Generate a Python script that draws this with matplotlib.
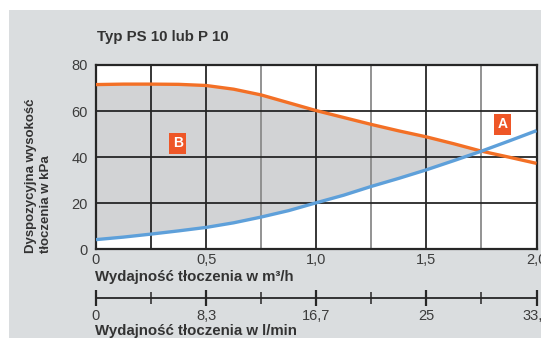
import matplotlib.pyplot as plt
from matplotlib.patches import Rectangle
import numpy as np

plt.rcParams['font.family'] = ['Liberation Sans', 'DejaVu Sans']

# Flow in m3/h
flow = [0, 0.125, 0.25, 0.375, 0.5, 0.625, 0.75, 0.875, 1.0,
        1.125, 1.25, 1.375, 1.5, 1.625, 1.75, 1.875, 2.0]
# Available head (kPa), curve A
head_a = [71.5, 71.7, 71.7, 71.6, 71.1, 69.5, 67.0, 63.6, 60.2,
          57.2, 54.2, 51.4, 48.8, 45.8, 42.6, 40.0, 37.3]
# Pipe loss curve
head_loss = [4.2, 5.3, 6.6, 8.0, 9.5, 11.5, 14.0, 16.8, 20.2,
             23.5, 27.3, 30.8, 34.5, 38.5, 42.6, 47.0, 51.5]

x_ticks = [0, 0.5, 1.0, 1.5, 2.0]
x_labels = ['0', '0,5', '1,0', '1,5', '2,0']
y_ticks = [0, 20, 40, 60, 80]
lmin_labels = ['0', '8,3', '16,7', '25', '33,2']

bg = '#dadddf'
orange = '#f37026'
blue = '#5ea0da'
box_red = '#ee5627'
dark = '#262626'
text_col = '#3c3c3c'

fig = plt.figure(figsize=(5.41, 3.38), dpi=100, facecolor='white')
fig.patches.append(Rectangle((9 / 541, 0), 1, (338 - 10) / 338,
                             transform=fig.transFigure, facecolor=bg,
                             edgecolor='none', zorder=-10))

ax = fig.add_axes([96 / 541, (338 - 249.3) / 338, 440.5 / 541, 184.3 / 338])
ax.set_facecolor('white')
ax.set_xlim(0, 2.0)
ax.set_ylim(0, 80)

# grid: full steps dark, quarter steps lighter
for gx in [0.25, 0.5, 1.0, 1.5]:
    ax.axvline(gx, color=dark, lw=1.3, zorder=1)
for gx in [0.75, 1.25, 1.75]:
    ax.axvline(gx, color='#8a8a8a', lw=1.3, zorder=1)
for gy in [20, 40, 60]:
    ax.axhline(gy, color=dark, lw=1.3, zorder=1)

f = np.array(flow)
a = np.array(head_a)
l = np.array(head_loss)
ax.fill_between(f, l, a, where=a >= l, interpolate=True,
                color='#d2d3d5', zorder=0.5, lw=0)
ax.plot(f, a, color=orange, lw=2.4, zorder=3, solid_capstyle='butt')
ax.plot(f, l, color=blue, lw=2.4, zorder=3, solid_capstyle='butt')

for s in ax.spines.values():
    s.set_color(dark)
    s.set_linewidth(1.6)

ax.set_xticks(x_ticks)
ax.set_xticklabels(x_labels)
ax.set_yticks(y_ticks)
ax.tick_params(axis='y', length=0, labelsize=10.5, labelcolor=text_col, pad=6)
ax.tick_params(axis='x', length=0, labelsize=10.5, labelcolor=text_col, pad=3)

box = dict(boxstyle='square,pad=0.25', facecolor=box_red, edgecolor='none')
ax.text(0.372, 46.1, 'B', color='white', fontsize=10, fontweight='bold',
        ha='center', va='center', bbox=box, zorder=4)
ax.text(1.845, 54.2, 'A', color='white', fontsize=10, fontweight='bold',
        ha='center', va='center', bbox=box, zorder=4)

# l/min scale underneath
ax2 = fig.add_axes([96 / 541, (338 - 297.5) / 338, 440.5 / 541, 0.001])
ax2.set_xlim(0, 2.0)
ax2.patch.set_visible(False)
for k in ['top', 'left', 'right']:
    ax2.spines[k].set_visible(False)
ax2.spines['bottom'].set_color(dark)
ax2.spines['bottom'].set_linewidth(1.3)
ax2.set_yticks([])
ax2.set_xticks(x_ticks)
ax2.set_xticklabels(lmin_labels)
ax2.set_xticks([0.25, 0.75, 1.25, 1.75], minor=True)
ax2.tick_params(axis='x', which='major', direction='inout', length=12,
                width=1.6, color=dark, labelsize=10.5, labelcolor=text_col, pad=2)
ax2.tick_params(axis='x', which='minor', direction='inout', length=9,
                width=1.1, color=dark)

fig.text(97 / 541, 1 - 37 / 338, 'Typ PS 10 lub P 10', fontsize=10.8,
         fontweight='bold', color='#333333', va='center', ha='left')
fig.text(38.5 / 541, 1 - 253 / 338, 'Dyspozycyjna wysokość\ntłoczenia w kPa',
         rotation=90, fontsize=9.5, fontweight='bold', color='#333333',
         ha='center', va='bottom', multialignment='left', linespacing=1.3)
fig.text(95 / 541, 1 - 277.5 / 338, 'Wydajność tłoczenia w m³/h', fontsize=10.8,
         fontweight='bold', color='#333333', ha='left', va='center')
fig.text(95 / 541, 1 - 331 / 338, 'Wydajność tłoczenia w l/min', fontsize=10.8,
         fontweight='bold', color='#333333', ha='left', va='center')

fig.savefig('out.png', dpi=100, facecolor='white')
